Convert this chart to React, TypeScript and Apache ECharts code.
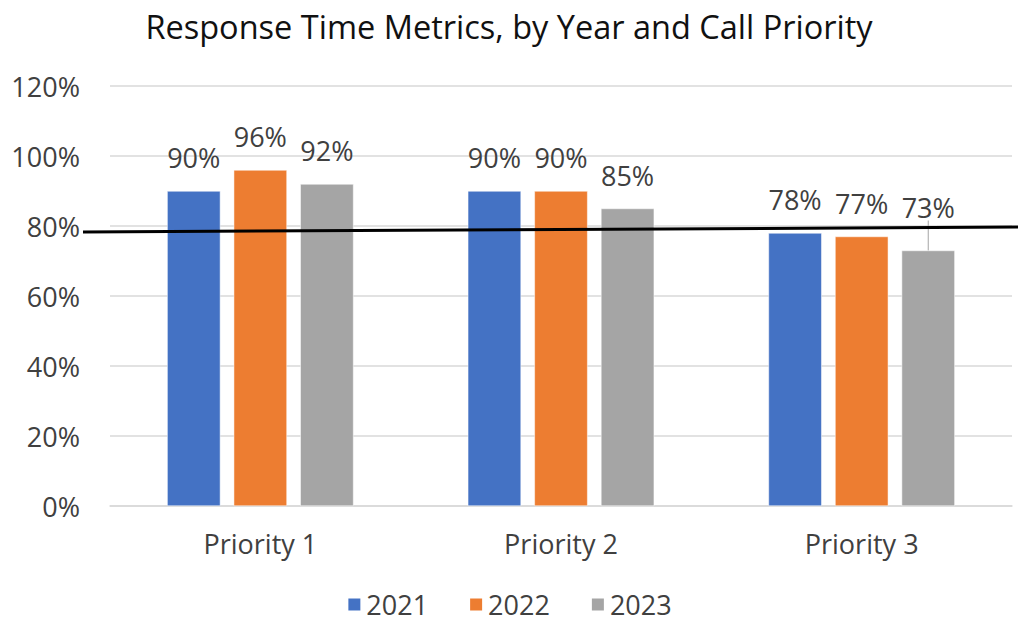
import React, { useEffect, useRef } from "react";
import * as echarts from "echarts";

const categories = ["Priority 1", "Priority 2", "Priority 3"];
const years = ["2021", "2022", "2023"];
const values2021 = [90, 90, 78];
const values2022 = [96, 90, 77];
const values2023 = [92, 85, 73];
const yTicks = { min: 0, max: 120, interval: 20 };
// hand-drawn target line, value at left and right end
const targetLeft = 78.3;
const targetRight = 79.7;

const colors = ["#4472C4", "#ED7D31", "#A5A5A5"];
const FONT = "Open Sans";
const FS = 27;

export default function App() {
  const ref = useRef<HTMLDivElement>(null);
  useEffect(() => {
    if (!ref.current) return;
    const chart = echarts.init(ref.current, undefined, { renderer: "svg" });
    const seriesData = [values2021, values2022, values2023];
    const option: any = {
      animation: false,
      textStyle: { fontFamily: FONT },
      title: {
        text: "Response Time Metrics, by Year and Call Priority",
        left: "center",
        top: 5,
        textStyle: { fontFamily: FONT, fontSize: 32.5, fontWeight: "normal", color: "#111" },
      },
      legend: {
        bottom: 0,
        left: "center",
        icon: "rect",
        itemWidth: 14,
        itemHeight: 14,
        itemGap: 40,
        textStyle: { fontFamily: FONT, fontSize: FS, color: "#404040" },
        data: years,
      },
      grid: { left: 110, right: 6, top: 86, bottom: 117, containLabel: false },
      xAxis: {
        type: "category",
        data: categories,
        axisLine: { show: true, lineStyle: { color: "#D9D9D9", width: 1.5 } },
        axisTick: { show: false },
        axisLabel: { fontFamily: FONT, fontSize: FS, color: "#404040", margin: 24 },
      },
      yAxis: {
        type: "value",
        min: yTicks.min,
        max: yTicks.max,
        interval: yTicks.interval,
        axisLine: { show: false },
        axisTick: { show: false },
        splitLine: { lineStyle: { color: "#D9D9D9", width: 1.5 } },
        axisLabel: { fontFamily: FONT, fontSize: FS, color: "#404040", margin: 30, formatter: "{value}%" },
      },
      series: years.map((y, i) => ({
        name: y,
        type: "bar",
        data: seriesData[i].map((v, j) =>
          i === 2 && j === 2
            ? { value: v, labelLine: { show: true, lineStyle: { color: "#A5A5A5", width: 1 } } }
            : v
        ),
        barGap: "25%",
        barCategoryGap: "38%",
        itemStyle: { color: colors[i], borderColor: "#fff", borderWidth: 0.5 },
        label: {
          show: true,
          position: "top",
          distance: 20,
          formatter: "{c}%",
          fontFamily: FONT,
          fontSize: FS,
          color: "#404040",
        },
        labelLayout:
          i === 2
            ? (p: any) => (p.dataIndex === 2 ? { dy: -10 } : {})
            : undefined,
        labelLine: { show: false },
      })),
    };
    chart.setOption(option);
    const yL = chart.convertToPixel({ yAxisIndex: 0 }, targetLeft) as number;
    const yR = chart.convertToPixel({ yAxisIndex: 0 }, targetRight) as number;
    chart.setOption({
      graphic: [
        {
          type: "line",
          z: 100,
          shape: { x1: 83, y1: yL, x2: 1018, y2: yR },
          style: { stroke: "#000", lineWidth: 3 },
        },
      ],
    });
    return () => chart.dispose();
  }, []);
  return <div ref={ref} style={{ width: 1018, height: 623, position: "absolute", left: 0, top: 0 }} />;
}
